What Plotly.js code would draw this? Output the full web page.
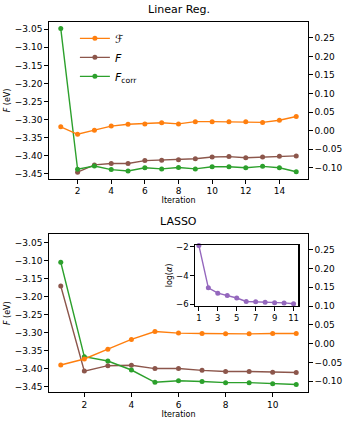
<!DOCTYPE html>
<html>
<head>
<meta charset="utf-8">
<script src="https://cdn.plot.ly/plotly-3.0.1.min.js"></script>
<style>
  html, body { margin: 0; padding: 0; background: #fff; }
  #chart { width: 349px; height: 431px; }
</style>
</head>
<body>
<div id="chart"></div>
<script>
  // ---- Linear Reg. panel ----
  var linIter = [1, 2, 3, 4, 5, 6, 7, 8, 9, 10, 11, 12, 13, 14, 15];
  var linCalF = [0.010, -0.010, 0.001, 0.012, 0.017, 0.018, 0.021, 0.018, 0.024, 0.024, 0.024, 0.024, 0.022, 0.028, 0.038];
  var linIterF = [2, 3, 4, 5, 6, 7, 8, 9, 10, 11, 12, 13, 14, 15];
  var linF = [-3.446, -3.426, -3.422, -3.422, -3.414, -3.413, -3.412, -3.409, -3.404, -3.403, -3.406, -3.404, -3.402, -3.401];
  var linFcorr = [-3.048, -3.438, -3.429, -3.439, -3.443, -3.434, -3.437, -3.433, -3.437, -3.431, -3.431, -3.434, -3.430, -3.434, -3.445];

  // ---- LASSO panel ----
  var lasIter = [1, 2, 3, 4, 5, 6, 7, 8, 9, 10, 11];
  var lasCalF = [-0.057, -0.041, -0.015, 0.011, 0.032, 0.028, 0.027, 0.026, 0.026, 0.027, 0.027];
  var lasF = [-3.171, -3.407, -3.392, -3.391, -3.400, -3.400, -3.405, -3.408, -3.408, -3.410, -3.411];
  var lasFcorr = [-3.105, -3.367, -3.379, -3.404, -3.438, -3.434, -3.436, -3.439, -3.439, -3.442, -3.444];
  var logAlpha = [-1.9, -4.85, -5.22, -5.38, -5.56, -5.8, -5.82, -5.86, -5.89, -5.9, -5.96];

  var ORANGE = '#ff7f0e', BROWN = '#8c564b', GREEN = '#2ca02c', PURPLE = '#9467bd';
  var FONT = 'DejaVu Sans, sans-serif';

  function series(x, y, color, name, xa, ya, rank) {
    return {
      x: x, y: y, xaxis: xa, yaxis: ya, name: name, showlegend: !!rank, legendrank: rank || 1000,
      mode: 'lines+markers', cliponaxis: false, hoverinfo: 'skip',
      line: { color: color, width: 1.4 },
      marker: { color: color, size: 5 }
    };
  }

  var traces = [
    series(linIterF, linF, BROWN, '<i>F</i>', 'x', 'y', 2),
    series(linIter, linFcorr, GREEN, '<i>F</i><sub>corr</sub>', 'x', 'y', 3),
    series(linIter, linCalF, ORANGE, 'ℱ', 'x', 'y2', 1),
    series(lasIter, lasF, BROWN, 'F', 'x2', 'y3'),
    series(lasIter, lasFcorr, GREEN, 'Fcorr', 'x2', 'y3'),
    series(lasIter, lasCalF, ORANGE, 'calF', 'x2', 'y4'),
    series(lasIter, logAlpha, PURPLE, 'alpha', 'x3', 'y5')
  ];

  var AX = {
    showgrid: false, zeroline: false, showline: true, linecolor: '#000', linewidth: 1.3,
    ticks: 'outside', ticklen: 3.5, tickwidth: 1, tickcolor: '#000',
    tickfont: { family: FONT, size: 9, color: '#000' }, fixedrange: true, automargin: false
  };
  function ax(o) { return Object.assign({}, AX, o); }

  var layout = {
    width: 349, height: 431,
    margin: { l: 49, r: 41, t: 22, b: 39 },
    paper_bgcolor: '#fff', plot_bgcolor: 'rgba(0,0,0,0)',
    font: { family: FONT, color: '#000' },
    showlegend: true,
    legend: {
      x: 0.1, y: 0.995, xanchor: 'left', yanchor: 'top',
      bgcolor: 'rgba(0,0,0,0)', font: { family: FONT, size: 11 },
      traceorder: 'normal', itemwidth: 30, tracegroupgap: 0
    },
    // top panel
    xaxis: ax({ domain: [0, 1], anchor: 'y', range: [0.3, 15.7], tickvals: [2, 4, 6, 8, 10, 12, 14],
      mirror: true, title: { text: 'Iteration', font: { size: 8 }, standoff: 2 } }),
    yaxis: ax({ domain: [0.576, 1], anchor: 'x', range: [-3.4647, -3.0298], dtick: 0.05, tick0: -3.05,
      tickformat: '.2f', title: { text: '<i>F</i> (eV)', font: { size: 8 }, standoff: 3 } }),
    yaxis2: ax({ overlaying: 'y', side: 'right', anchor: 'x', range: [-0.1304, 0.293], dtick: 0.05, tick0: 0,
      tickformat: '.2f' }),
    // bottom panel
    xaxis2: ax({ domain: [0, 1], anchor: 'y3', range: [0.5, 11.5], tickvals: [2, 4, 6, 8, 10],
      mirror: true, title: { text: 'Iteration', font: { size: 8 }, standoff: 2 } }),
    yaxis3: ax({ domain: [0, 0.426], anchor: 'x2', range: [-3.465, -3.0278], dtick: 0.05, tick0: -3.05,
      tickformat: '.2f', title: { text: '<i>F</i> (eV)', font: { size: 8 }, standoff: 3 } }),
    yaxis4: ax({ overlaying: 'y3', side: 'right', anchor: 'x2', range: [-0.129, 0.291], dtick: 0.05, tick0: 0,
      tickformat: '.2f' }),
    // inset
    xaxis3: ax({ domain: [0.564, 0.9625], anchor: 'y5', range: [0.6, 11.5], tickvals: [1, 3, 5, 7, 9, 11],
      mirror: true, tickfont: { family: FONT, size: 8.5, color: '#000' } }),
    yaxis5: ax({ domain: [0.233, 0.397], anchor: 'x3', range: [-6.1, -1.88], tickvals: [-2, -4, -6],
      mirror: true, tickfont: { family: FONT, size: 8.5, color: '#000' },
      title: { text: 'log(<i>α</i>)', font: { size: 8 }, standoff: 2 } }),
    annotations: [
      { text: 'Linear Reg.', xref: 'paper', yref: 'paper', x: 0.5, y: 1, yanchor: 'bottom', yshift: 4,
        showarrow: false, font: { family: FONT, size: 11, color: '#000' } },
      { text: 'LASSO', xref: 'paper', yref: 'paper', x: 0.5, y: 0.426, yanchor: 'bottom', yshift: 4,
        showarrow: false, font: { family: FONT, size: 11, color: '#000' } }
    ],
    shapes: [
      { type: 'rect', xref: 'paper', yref: 'paper', x0: 0.564, x1: 0.9625, y0: 0.233, y1: 0.397,
        fillcolor: '#fff', line: { width: 0 }, layer: 'below' }
    ]
  };

  Plotly.newPlot('chart', traces, layout, { displayModeBar: false, staticPlot: true });
</script>
</body>
</html>
